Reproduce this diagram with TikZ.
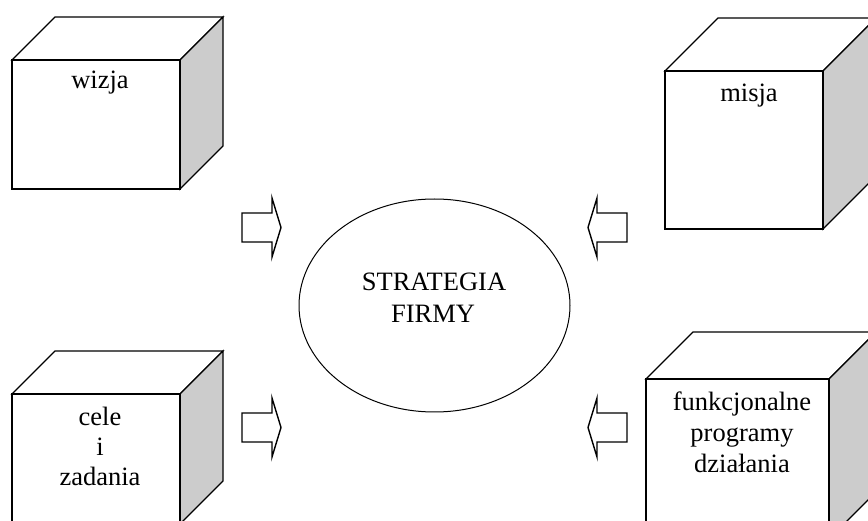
\documentclass[tikz,border=0pt]{standalone}
\usepackage{fontspec}
\setmainfont{Liberation Serif}
\usetikzlibrary{shapes.geometric}
\tikzset{
  edge/.style={line width=1.3pt, line join=miter, draw=black},
  sideface/.style={edge, fill=gray!40},
  topface/.style={edge, fill=white},
  lbl/.style={font=\fontsize{26.5}{31}\selectfont, anchor=base, inner sep=0pt},
  pics/cubebox/.style n args={3}{code={
    \filldraw[topface] (0,0) -- (#3,-#3) -- ({#1+#3},-#3) -- (#1,0) -- cycle;
    \filldraw[sideface] (#1,0) -- ({#1+#3},-#3) -- ({#1+#3},{#2-#3}) -- (#1,#2) -- cycle;
    \filldraw[topface] (0,0) rectangle (#1,#2);
  }},
  pics/fatarrow/.style={code={
    \draw[edge, line width=1.4pt] (0,-14.5) -- (30,-14.5) -- (30,-29.5) -- (39,0) -- (30,29.5) -- (30,14.5) -- (0,14.5) -- cycle;
  }}
}
\begin{document}
\begin{tikzpicture}[x=1pt,y=-1pt]
\useasboundingbox (0,0) rectangle (868,521);
\clip (0,0) rectangle (868,521);
\fill[white] (0,0) rectangle (868,521);
% cubes
\pic at (12,60) {cubebox={168}{129}{43}};
\pic at (665,71) {cubebox={158}{158}{53}};
\pic at (12,394) {cubebox={168}{130}{43}};
\pic at (646,379) {cubebox={183}{160}{47}};
% centre ellipse
\node[draw, line width=1pt, ellipse, minimum width=271pt, minimum height=213pt, inner sep=0pt] (strat) at (434.5,305.5) {};
\node[lbl] (s1) at (434,291) {STRATEGIA};
\node[lbl] (s2) at (433,323) {FIRMY};
% labels
\node[lbl] (wizja) at (100,89) {wizja};
\node[lbl] (misja) at (749,102) {misja};
\node[lbl] (c1) at (100,425) {cele};
\node[lbl] (c2) at (100,455) {i};
\node[lbl] (c3) at (100,485) {zadania};
\node[lbl] (f1) at (742,410) {funkcjonalne};
\node[lbl] (f2) at (742,441) {programy};
\node[lbl] (f3) at (742,472) {działania};
% arrows
\pic at (242,227.5) {fatarrow};
\pic at (242,427.5) {fatarrow};
\pic[xscale=-1] at (627,227.5) {fatarrow};
\pic[xscale=-1] at (627,427.5) {fatarrow};
\end{tikzpicture}
\end{document}
